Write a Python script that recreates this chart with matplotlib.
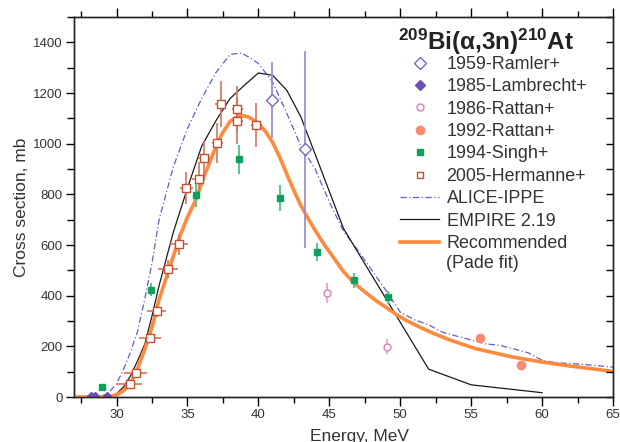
import matplotlib
matplotlib.use("Agg")
import matplotlib.pyplot as plt
from matplotlib.lines import Line2D
from matplotlib.ticker import MultipleLocator

plt.rcParams['font.family'] = ['Liberation Sans', 'DejaVu Sans']
plt.rcParams['mathtext.fontset'] = 'custom'
plt.rcParams['mathtext.rm'] = 'Liberation Sans'
plt.rcParams['mathtext.bf'] = 'Liberation Sans:bold'
plt.rcParams['mathtext.it'] = 'Liberation Sans:italic'

# ---------------- data ----------------
ramler_E = [40.99, 43.26]
ramler_s = [1171, 977]
ramler_err = [150, 390]

lambrecht_E = [28.2, 28.5, 29.3]
lambrecht_s = [2, 2, 4]

rattan86_E = [44.86, 49.04]
rattan86_s = [411, 199]
rattan86_err = [40, 28]

rattan92_E = [55.61, 58.54]
rattan92_s = [233, 125]

singh_E = [28.97, 32.46, 35.63, 38.63, 41.55, 44.15, 46.73, 49.13]
singh_s = [39, 424, 799, 938, 786, 571, 461, 394]
singh_err = [10, 26, 48, 57, 50, 36, 30, 25]

herm_E = [30.94, 31.34, 32.35, 32.82, 33.63, 34.39, 34.93, 35.80, 36.15, 37.11, 37.35, 38.52, 38.52, 39.86]
herm_s = [53, 93, 234, 340, 504, 602, 825, 859, 942, 1002, 1156, 1136, 1090, 1073]
herm_dE = [0.88, 0.8, 0.8, 0.7, 0.7, 0.62, 0.47, 0.45, 0.42, 0.4, 0.4, 0.38, 0.38, 0.36]
herm_ds = [8, 10, 20, 25, 35, 42, 65, 70, 70, 80, 90, 90, 90, 87]

alice_E = [27, 29.0, 29.5, 30, 30.5, 31, 31.5, 32, 32.5, 33, 34, 35, 36, 37, 38, 38.8,
           39.5, 40, 41, 42, 43, 44, 45, 46, 47, 48, 49, 50, 51, 52, 53, 54, 55, 56,
           57, 58, 59, 60, 61, 62, 63, 64, 65]
alice_s = [0, 5, 20, 53, 110, 180, 263, 390, 530, 700, 908, 1060, 1178, 1280, 1352, 1358,
           1336, 1316, 1244, 1120, 990, 900, 770, 655, 580, 500, 420, 335, 305, 285, 255,
           240, 225, 210, 204, 190, 175, 145, 135, 132, 128, 123, 118]

empire_E = [27, 29, 29.5, 30, 30.5, 31, 31.5, 32, 32.5, 33, 34, 35, 36, 37, 38, 39, 40,
            41, 42, 43, 46, 52, 55, 60]
empire_s = [0, 0, 2, 13, 40, 85, 145, 210, 320, 440, 650, 825, 990, 1090, 1178, 1230,
            1279, 1270, 1211, 1105, 665, 110, 48, 17]

rec_E = [27, 29, 29.5, 30, 30.5, 31, 31.5, 32, 32.5, 33, 33.5, 34, 34.5, 35, 35.6, 36.2,
         36.8, 37.4, 38, 38.7, 39.3, 39.9, 40.5, 41, 41.5, 42, 42.5, 43, 43.5, 44, 44.6,
         45.3, 46, 46.7, 47.5, 48.3, 49.1, 49.7, 50.5, 51.4, 52.3, 53.5, 55.3, 57.9, 60,
         62, 65]
rec_s = [0, 0, 2, 8, 25, 55, 115, 190, 275, 385, 470, 555, 640, 710, 780, 875,
         960, 1035, 1088, 1113, 1105, 1085, 1048, 1005, 947, 880, 815, 755, 705, 658, 605,
         550, 495, 452, 415, 380, 350, 326, 300, 275, 252, 225, 191, 158, 138,
         122, 101]

# ---------------- figure ----------------
fig = plt.figure(figsize=(6.2, 4.42), dpi=100)
ax = fig.add_axes([74/620, 1-397/442, 539/620, 380/442])

c_alice = '#6a5acd'
c_rec = '#ff8a3d'
c_ramler = '#7a64c4'
c_lamb = '#6a4fb0'
c_r86 = '#e07cb8'
c_r92 = '#f98a72'
c_singh = '#10a05e'
c_herm = '#c4502f'
dashdot = (0, (5, 2, 1, 2))

ax.plot(alice_E, alice_s, color=c_alice, lw=0.9, ls=dashdot, zorder=2)
ax.plot(empire_E, empire_s, color='#1a1a1a', lw=0.9, zorder=2)
ax.plot(rec_E, rec_s, color=c_rec, lw=2.6, zorder=3, solid_capstyle='round',
        solid_joinstyle='round')

ax.errorbar(herm_E, herm_s, xerr=herm_dE, yerr=herm_ds, fmt='s', mfc='white', mec=c_herm,
            mew=1.0, ms=5.5, ecolor='#d2765c', elinewidth=1.2, capsize=0, zorder=5)
ax.errorbar(singh_E, singh_s, yerr=singh_err, fmt='s', mfc=c_singh, mec=c_singh,
            ms=5, ecolor='#62c393', elinewidth=1.5, capsize=0, zorder=5)
ax.errorbar(ramler_E, ramler_s, yerr=ramler_err, fmt='D', mfc='white', mec=c_ramler,
            mew=1.0, ms=6, ecolor='#9d8fd6', elinewidth=1.3, capsize=0, zorder=5)
ax.plot(lambrecht_E, lambrecht_s, 'D', color=c_lamb, ms=4, zorder=5)
ax.errorbar(rattan86_E, rattan86_s, yerr=rattan86_err, fmt='o', mfc='white', mec=c_r86,
            mew=1.0, ms=5, ecolor='#e79ac8', elinewidth=1.2, capsize=0, zorder=5)
ax.plot(rattan92_E, rattan92_s, 'o', color=c_r92, ms=6, zorder=5)

ax.set_xlim(27, 65)
ax.set_ylim(0, 1500)

ax.xaxis.set_major_locator(MultipleLocator(5))
ax.xaxis.set_minor_locator(MultipleLocator(2.5))
ax.set_yticks([0, 200, 400, 600, 800, 1000, 1200, 1400])
ax.yaxis.set_minor_locator(MultipleLocator(100))

ax.tick_params(axis='x', which='both', direction='out', top=True, bottom=True,
               labelsize=9.5, width=1.0, pad=2)
ax.tick_params(axis='x', which='major', length=6.5)
ax.tick_params(axis='x', which='minor', length=4)
ax.tick_params(axis='y', which='both', direction='out', left=True, right=False,
               labelsize=9.5, width=1.0, pad=2)
ax.tick_params(axis='y', which='major', length=6)
ax.tick_params(axis='y', which='minor', length=5)
for lab in ax.get_xticklabels() + ax.get_yticklabels():
    lab.set_color('#333333')

# right axis inward ticks
axr = ax.twinx()
axr.set_ylim(ax.get_ylim())
axr.yaxis.set_major_locator(MultipleLocator(100))
axr.tick_params(axis='y', direction='in', length=5, width=1.0, labelright=False)
for sp in list(ax.spines.values()) + list(axr.spines.values()):
    sp.set_linewidth(1.0)
    sp.set_color('#222222')

ax.set_xlabel('Energy, MeV', fontsize=12.5, color='#333333')
ax.set_ylabel('Cross section, mb', fontsize=12.5, color='#333333')
ax.xaxis.set_label_coords((359-74)/539, -0.085)
ax.yaxis.set_label_coords(-0.083, 0.5)

# title
fig.text(398/620, 1-50/442, r'$\mathbf{^{209}}$Bi(α,3n)$\mathbf{^{210}}$At',
         fontsize=17.5, fontweight='bold', color='#222222',
         ha='left', va='baseline')

handles = [
    Line2D([], [], ls='none', marker='D', mfc='white', mec=c_ramler, ms=6),
    Line2D([], [], ls='none', marker='D', mfc=c_lamb, mec=c_lamb, ms=5),
    Line2D([], [], ls='none', marker='o', mfc='white', mec=c_r86, ms=5),
    Line2D([], [], ls='none', marker='o', mfc=c_r92, mec=c_r92, ms=6),
    Line2D([], [], ls='none', marker='s', mfc=c_singh, mec=c_singh, ms=5),
    Line2D([], [], ls='none', marker='s', mfc='white', mec=c_herm, ms=5),
    Line2D([], [], color=c_alice, lw=0.9, ls=dashdot),
    Line2D([], [], color='#1a1a1a', lw=0.9),
    Line2D([], [], color=c_rec, lw=2.6),
]
labels = ['1959-Ramler+', '1985-Lambrecht+', '1986-Rattan+', '1992-Rattan+',
          '1994-Singh+', '2005-Hermanne+', 'ALICE-IPPE', 'EMPIRE 2.19', 'Recommended']
leg = ax.legend(handles, labels, loc='upper left', bbox_to_anchor=(400/620, 1-56/442),
                bbox_transform=fig.transFigure, frameon=False, fontsize=12.9,
                handlelength=2.2, handletextpad=0.4, labelspacing=0.3,
                borderpad=0, borderaxespad=0)
for t in leg.get_texts():
    t.set_color('#333333')
fig.text(446/620, 1-263/442, '(Pade fit)', fontsize=12.9,
         color='#333333', ha='left', va='center')

fig.savefig('out.png', dpi=100)
